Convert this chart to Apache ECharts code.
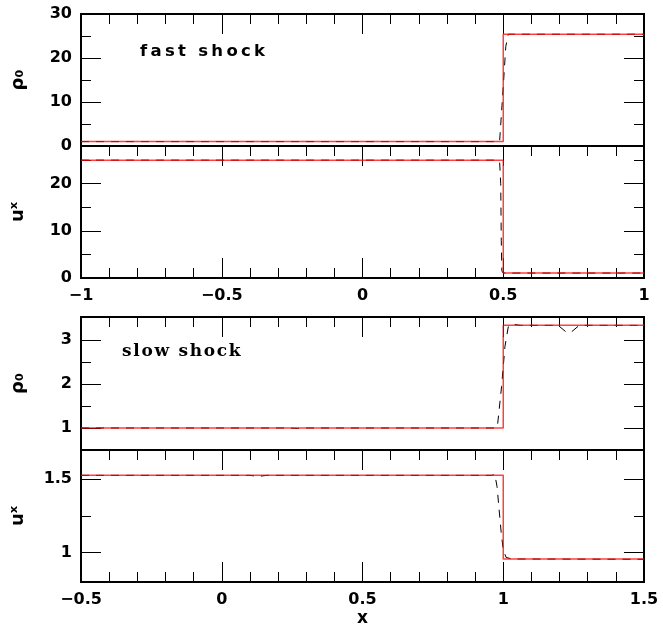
<!DOCTYPE html>
<html>
<head>
<meta charset="utf-8">
<style>
  html, body { margin: 0; padding: 0; width: 100%; height: 100%; overflow: hidden; background: #fff; }
</style>
<script src="https://cdn.jsdelivr.net/npm/echarts@6/dist/echarts.min.js"></script>
</head>
<body>
<div id="container" style="height: 100%; width: 100%;"></div>
<script>
  // ---- fast shock (jump at x = 0.5) ----
  let fastExactX = [-1, 0.5, 0.5, 1];
  let fastRhoExact = [1, 1, 25.4, 25.4];
  let fastUExact = [25, 25, 1.05, 1.05];

  let fastRhoNumX = [-1, 0.487, 0.491, 0.5, 0.509, 0.518, 1];
  let fastRhoNum = [1, 1, 1.4, 13.5, 22.6, 25.4, 25.4];
  let fastUNumX = [-1, 0.477, 0.487, 0.491, 0.493, 0.495, 0.5, 1];
  let fastUNum = [25, 25, 24.7, 20, 8, 1.5, 1.05, 1.05];

  // ---- slow shock (jump at x = 1) ----
  let slowExactX = [-0.5, 1, 1, 1.5];
  let slowRhoExact = [1, 1, 3.33, 3.33];
  let slowUExact = [1.527, 1.527, 0.957, 0.957];

  let slowRhoNumX = [-0.5, 0.24, 0.27, 0.3, 0.97, 0.979, 0.994, 1.006, 1.018, 1.03, 1.06, 1.195, 1.225, 1.24, 1.27, 1.5];
  let slowRhoNum = [1, 1, 0.99, 1, 1, 1.02, 1.94, 2.85, 3.3, 3.36, 3.33, 3.33, 3.17, 3.17, 3.33, 3.33];
  let slowUNumX = [-0.5, 0.1, 0.13, 0.16, 0.96, 0.97, 0.978, 0.985, 0.993, 1.0, 1.01, 1.03, 1.5];
  let slowUNum = [1.527, 1.527, 1.52, 1.527, 1.527, 1.535, 1.45, 1.3, 1.13, 1.02, 0.968, 0.957, 0.955];

  // ---- axis ticks ----
  let fastX = [-1, 1];
  let slowX = [-0.5, 1.5];
  let rhoFastRange = [0, 30], rhoFastMajor = [0, 10, 20, 30], rhoFastMinor = [5, 15, 25];
  let uFastRange = [0, 28], uFastMajor = [0, 10, 20], uFastMinor = [5, 15, 25];
  let rhoSlowRange = [0.5, 3.52], rhoSlowMajor = [1, 2, 3], rhoSlowMinor = [1.5, 2.5];
  let uSlowRange = [0.8, 1.7], uSlowMajor = [1, 1.5], uSlowMinor = [1.25];

  function pairs(xs, ys) {
    return xs.map(function (x, i) { return [x, ys[i]]; });
  }
  function minusSign(v) {
    return String(v).replace('-', '\u2212');
  }
  // spread letters a little, like the original lettering
  function spaced(s, gap) {
    return s.split('').join(gap);
  }

  let panels = [
    { top: 14, height: 132, x: fastX, yr: rhoFastRange, major: rhoFastMajor, minor: rhoFastMinor, name: 'ρ₀', xLabels: false,
      num: pairs(fastRhoNumX, fastRhoNum), exact: pairs(fastExactX, fastRhoExact) },
    { top: 146, height: 132, x: fastX, yr: uFastRange, major: uFastMajor, minor: uFastMinor, name: 'uˣ', xLabels: true,
      num: pairs(fastUNumX, fastUNum), exact: pairs(fastExactX, fastUExact) },
    { top: 317, height: 133, x: slowX, yr: rhoSlowRange, major: rhoSlowMajor, minor: rhoSlowMinor, name: 'ρ₀', xLabels: false,
      num: pairs(slowRhoNumX, slowRhoNum), exact: pairs(slowExactX, slowRhoExact) },
    { top: 450, height: 132, x: slowX, yr: uSlowRange, major: uSlowMajor, minor: uSlowMinor, name: 'uˣ', xLabels: true,
      num: pairs(slowUNumX, slowUNum), exact: pairs(slowExactX, slowUExact) }
  ];

  let labelStyle = { color: '#000', fontFamily: 'DejaVu Sans', fontWeight: 'bold', fontSize: 16 };
  let tickStyle = { color: '#000', width: 1 };

  let grid = [], xAxis = [], yAxis = [], series = [];
  panels.forEach(function (p, g) {
    grid.push({ left: 81, top: p.top, width: 563, height: p.height, show: true,
      borderColor: '#000', borderWidth: 2, backgroundColor: 'transparent' });

    ['bottom', 'top'].forEach(function (pos) {
      let ticks = pos === 'top' || p.xLabels;
      xAxis.push({
        type: 'value', gridIndex: g, position: pos, min: p.x[0], max: p.x[1], interval: 0.5,
        axisLine: { show: false, onZero: false },
        axisTick: { show: ticks, inside: true, length: 20, lineStyle: tickStyle },
        minorTick: { show: ticks, splitNumber: 5, length: 10, lineStyle: tickStyle },
        axisLabel: Object.assign({ show: pos === 'bottom' && p.xLabels, margin: 10, formatter: minusSign }, labelStyle),
        splitLine: { show: false }, minorSplitLine: { show: false },
        name: (g === 3 && pos === 'bottom') ? 'x' : '',
        nameLocation: 'middle', nameGap: 28,
        nameTextStyle: { color: '#000', fontFamily: 'DejaVu Sans', fontWeight: 'bold', fontSize: 17 }
      });
    });

    ['left', 'right'].forEach(function (pos) {
      [true, false].forEach(function (isMajor) {
        let vals = isMajor ? p.major : p.minor;
        yAxis.push({
          type: 'value', gridIndex: g, position: pos, min: p.yr[0], max: p.yr[1],
          axisLine: { show: false, onZero: false },
          axisTick: { show: true, inside: true, length: isMajor ? 20 : 10, customValues: vals, lineStyle: tickStyle },
          axisLabel: Object.assign({ show: pos === 'left' && isMajor, margin: 9, customValues: vals }, labelStyle),
          splitLine: { show: false },
          name: (pos === 'left' && isMajor) ? p.name : '',
          nameLocation: 'middle', nameRotate: 90, nameGap: 54,
          nameTextStyle: { color: '#000', fontFamily: 'DejaVu Sans', fontWeight: 'bold', fontSize: 18 }
        });
      });
    });

    series.push({
      type: 'line', xAxisIndex: 2 * g, yAxisIndex: 4 * g, data: p.num,
      showSymbol: false, silent: true, z: 2,
      lineStyle: { color: '#000', width: 1, type: [8, 7] }
    });
    series.push({
      type: 'line', xAxisIndex: 2 * g, yAxisIndex: 4 * g, data: p.exact,
      showSymbol: false, silent: true, z: 3,
      lineStyle: { color: '#ff0000', width: 1.5, opacity: 0.75 }
    });
  });

  let chart = echarts.init(document.getElementById('container'), null, { renderer: 'canvas' });
  chart.setOption({
    animation: false,
    backgroundColor: '#fff',
    title: [
      { text: spaced('fast shock', '\u2009'), left: 140, top: 43, padding: 0,
        textStyle: { color: '#000', fontFamily: 'DejaVu Sans', fontWeight: 'bold', fontSize: 16.5 } },
      { text: spaced('slow shock', '\u200A'), left: 122, top: 343, padding: 0,
        textStyle: { color: '#000', fontFamily: 'DejaVu Serif', fontWeight: 'bold', fontSize: 17 } }
    ],
    grid: grid,
    xAxis: xAxis,
    yAxis: yAxis,
    series: series
  });
  window.addEventListener('resize', chart.resize);
</script>
</body>
</html>
